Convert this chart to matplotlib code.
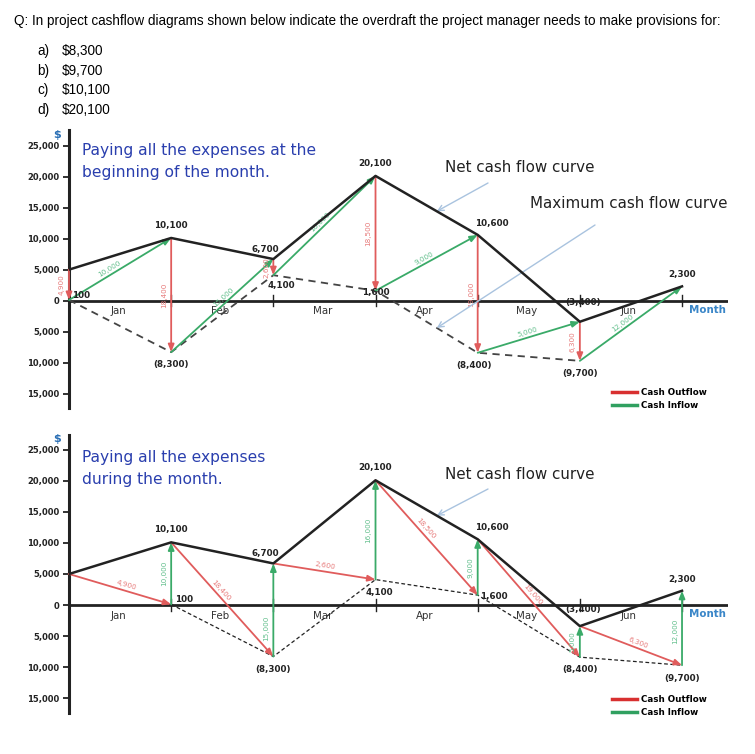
import matplotlib
matplotlib.use('Agg')
import matplotlib.pyplot as plt
import numpy as np
from matplotlib.lines import Line2D

# ---------------- data ----------------
months = ['Jan', 'Feb', 'Mar', 'Apr', 'May', 'Jun']
net = [5000, 10100, 6700, 20100, 10600, -3400, 2300]      # net cash flow at month boundaries
outflow = [4900, 18400, 2600, 18500, 19000, 6300]          # monthly expenses
inflow = [10000, 15000, 16000, 9000, 5000, 12000]          # monthly income
yticks = [25000, 20000, 15000, 10000, 5000, 0, -5000, -10000, -15000]
question = "Q: In project cashflow diagrams shown below indicate the overdraft the project manager needs to make provisions for:"
option_letters = ['a)', 'b)', 'c)', 'd)']
options = ['$8,300', '$9,700', '$10,100', '$20,100']
titles = ["Paying all the expenses at the\nbeginning of the month.",
          "Paying all the expenses\nduring the month."]

low = [net[i] - outflow[i] for i in range(len(outflow))]

RED = '#e05c5c'
RED_T = '#e77a7a'
GREEN = '#3aaa68'
GREEN_T = '#62bf8c'
BLACK = '#222222'
BLUE_T = '#2a3fae'
ARROW_BLUE = '#a9c3df'
FONT = 'DejaVu Sans'

W, H = 755, 754
fig = plt.figure(figsize=(W / 100, H / 100), dpi=100)


def fx(px):
    return px / W


def fy(py):
    return 1 - py / H


def fmt(v):
    s = f"{abs(v):,}"
    return f"({s})" if v < 0 else s


def seg_angle(ax, p0, p1):
    a = ax.transData.transform(p0)
    b = ax.transData.transform(p1)
    ang = np.degrees(np.arctan2(b[1] - a[1], b[0] - a[0]))
    n = np.array([-(b[1] - a[1]), b[0] - a[0]])
    n = n / np.hypot(*n)
    return ang, n


def arrow(ax, p0, p1, color, lw=1.3):
    ax.annotate('', xy=p1, xytext=p0,
                arrowprops=dict(arrowstyle='-|>,head_length=0.45,head_width=0.18',
                                color=color, lw=lw, shrinkA=0, shrinkB=0))


def seg_label(ax, p0, p1, text, color, frac=0.5, off=4.0):
    ang, n = seg_angle(ax, p0, p1)
    if ang > 90:
        ang -= 180
    if ang < -90:
        ang += 180
    x = p0[0] + (p1[0] - p0[0]) * frac
    y = p0[1] + (p1[1] - p0[1]) * frac
    if abs(p1[0] - p0[0]) < 1e-9:
        dx, dy = -off, 0
        ang = 90
    else:
        dx, dy = n[0] * off, n[1] * off
    ax.annotate(text, (x, y), xytext=(dx, dy), textcoords='offset points',
                rotation=ang, rotation_mode='anchor', ha='center', va='center',
                color=color, fontsize=5.2, family=FONT)


def setup_axes(ax, ylim):
    ax.set_xlim(0, 6.45)
    ax.set_ylim(*ylim)
    for s in ['top', 'right', 'bottom']:
        ax.spines[s].set_visible(False)
    ax.spines['left'].set_linewidth(2.2)
    ax.spines['left'].set_color(BLACK)
    ax.axhline(0, color=BLACK, lw=2.0, zorder=1)
    ax.set_yticks(yticks)
    ax.set_yticklabels([f"{abs(v):,}" for v in yticks], fontweight='bold', family=FONT)
    ax.tick_params(axis='y', length=4, width=1.3, labelsize=6, pad=3, colors=BLACK)
    ax.set_xticks([])
    for t in range(1, len(months) + 1):
        ax.plot([t, t], [-900, 900], color=BLACK, lw=1.0, zorder=1)
    for i, m in enumerate(months):
        ax.text(i + 0.48, -900, m, ha='center', va='top', fontsize=7.4, color='#333333', family=FONT)
    ax.text(6.07, -700, 'Month', ha='left', va='top', fontsize=7.4, color='#3a86c8',
            fontweight='bold', family=FONT)
    ax.text(-0.12, 26700, '$', ha='center', va='center', fontsize=8, color='#2a6fb5',
            fontweight='bold', family=FONT, clip_on=False)
    ax.patch.set_alpha(0)


def point_label(ax, t, v, dx, dy, ha='center', va='center'):
    ax.annotate(fmt(v), (t, v), xytext=(dx, dy), textcoords='offset points',
                ha=ha, va=va, fontsize=6.3, fontweight='bold', color=BLACK, family=FONT)


tvals = list(range(len(net)))

# ---------------- header ----------------
fig.text(fx(14), fy(21), question, fontsize=9.75, family='Liberation Sans', va='center', ha='left')
for k, (l, o) in enumerate(zip(option_letters, options)):
    fig.text(fx(37), fy(51 + k * 19.6), l, fontsize=9.75, family='Liberation Sans', va='center')
    fig.text(fx(62), fy(51 + k * 19.6), o, fontsize=9.75, family='Liberation Sans', va='center')

# ---------------- top panel ----------------
ax1 = fig.add_axes([fx(69), fy(408), (728 - 69) / W, 278 / H])
setup_axes(ax1, (-17300, 27500))
ax1.plot(tvals, net, color=BLACK, lw=1.8, zorder=4)
ax1.plot(tvals[:-1], low, color='#444444', lw=1.3, ls=(0, (4, 3)), zorder=3)
for i in range(len(outflow)):
    arrow(ax1, (i, net[i]), (i, low[i]), RED)
    arrow(ax1, (i, low[i]), (i + 1, net[i + 1]), GREEN)
top_out_frac = [0.5, 0.5, 0.5, 0.5, 0.5, 0.5]
top_in_frac = [0.42, 0.55, 0.5, 0.5, 0.5, 0.45]
for i in range(len(outflow)):
    seg_label(ax1, (i, net[i]), (i, low[i]), fmt(outflow[i]), RED_T, frac=top_out_frac[i], off=5)
    seg_label(ax1, (i, low[i]), (i + 1, net[i + 1]), fmt(inflow[i]), GREEN_T, frac=top_in_frac[i], off=4)

point_label(ax1, 0, low[0], 2, 0, ha='left', va='bottom')
point_label(ax1, 1, net[1], 0, 6, va='bottom')
point_label(ax1, 1, low[1], 0, -6, va='top')
point_label(ax1, 2, net[2], -6, 4, va='bottom')
point_label(ax1, 2, low[2], 6, -4, va='top')
point_label(ax1, 3, net[3], 0, 6, va='bottom')
point_label(ax1, 3, low[3], 0, -1.5)
point_label(ax1, 4, net[4], 10, 5, va='bottom')
point_label(ax1, 4, low[4], -3, -6, va='top')
point_label(ax1, 5, net[5], 2, 14)
point_label(ax1, 5, low[5], 0, -6, va='top')
point_label(ax1, 6, net[6], 0, 5, va='bottom')

fig.text(fx(82), fy(143), titles[0], fontsize=11.2, color=BLUE_T, family=FONT,
         va='top', ha='left', linespacing=1.55)
fig.text(fx(445), fy(168), 'Net cash flow curve', fontsize=10.9, color=BLACK, family=FONT, va='center')
fig.text(fx(530), fy(203), 'Maximum cash flow curve', fontsize=10.9, color=BLACK, family=FONT, va='center')

t_arrow = 3.6
y_net = np.interp(t_arrow, tvals, net)
ax1.annotate('', xy=(t_arrow, y_net), xycoords='data', xytext=(fx(488), fy(183)),
             textcoords='figure fraction',
             arrowprops=dict(arrowstyle='->', color=ARROW_BLUE, lw=1.0, shrinkA=0, shrinkB=0))
y_max = np.interp(t_arrow, tvals[:-1], low)
ax1.annotate('', xy=(t_arrow, y_max), xycoords='data', xytext=(fx(595), fy(225)),
             textcoords='figure fraction',
             arrowprops=dict(arrowstyle='->', color=ARROW_BLUE, lw=1.0, shrinkA=0, shrinkB=0))

# ---------------- bottom panel ----------------
ax2 = fig.add_axes([fx(69), fy(713), (728 - 69) / W, 278 / H])
setup_axes(ax2, (-17400, 27400))
ax2.plot(tvals, net, color=BLACK, lw=1.8, zorder=4)
ax2.plot(tvals[1:], low, color=BLACK, lw=0.9, ls=(0, (3, 2)), zorder=3)
for i in range(len(outflow)):
    arrow(ax2, (i, net[i]), (i + 1, low[i]), RED)
    arrow(ax2, (i + 1, low[i]), (i + 1, net[i + 1]), GREEN)
bot_out_frac = [0.55, 0.45, 0.5, 0.45, 0.5, 0.55]
bot_in_frac = [0.5, 0.3, 0.5, 0.5, 0.5, 0.45]
for i in range(len(outflow)):
    seg_label(ax2, (i, net[i]), (i + 1, low[i]), fmt(outflow[i]), RED_T, frac=bot_out_frac[i], off=4)
    seg_label(ax2, (i + 1, low[i]), (i + 1, net[i + 1]), fmt(inflow[i]), GREEN_T, frac=bot_in_frac[i], off=5)

point_label(ax2, 1, low[0], 3, 0, ha='left', va='bottom')
point_label(ax2, 1, net[1], 0, 6, va='bottom')
point_label(ax2, 2, net[2], -6, 4, va='bottom')
point_label(ax2, 2, low[1], 0, -6, va='top')
point_label(ax2, 3, net[3], 0, 6, va='bottom')
point_label(ax2, 3, low[2], 3, -6, va='top')
point_label(ax2, 4, net[4], 10, 5, va='bottom')
point_label(ax2, 4, low[3], 2, -1, ha='left')
point_label(ax2, 5, net[5], 2, 12)
point_label(ax2, 5, low[4], 0, -6, va='top')
point_label(ax2, 6, low[5], 0, -6, va='top')
point_label(ax2, 6, net[6], 0, 5, va='bottom')

fig.text(fx(82), fy(450), titles[1], fontsize=11.2, color=BLUE_T, family=FONT,
         va='top', ha='left', linespacing=1.55)
fig.text(fx(445), fy(474), 'Net cash flow curve', fontsize=10.9, color=BLACK, family=FONT, va='center')
ax2.annotate('', xy=(t_arrow, y_net), xycoords='data', xytext=(fx(488), fy(489)),
             textcoords='figure fraction',
             arrowprops=dict(arrowstyle='->', color=ARROW_BLUE, lw=1.0, shrinkA=0, shrinkB=0))

# ---------------- legends ----------------
handles = [Line2D([], [], color='#d83030', lw=2.5), Line2D([], [], color='#30a060', lw=2.5)]
for ax, ytop in [(ax1, 388), (ax2, 695)]:
    fig.legend(handles, ['Cash Outflow', 'Cash Inflow'], loc='upper left',
               bbox_to_anchor=(fx(612), fy(ytop)), frameon=False,
               prop={'family': FONT, 'weight': 'bold', 'size': 6.3},
               handlelength=2.8, handletextpad=0.5, labelspacing=0.45, borderpad=0, borderaxespad=0)

fig.savefig('out.png', dpi=100)
